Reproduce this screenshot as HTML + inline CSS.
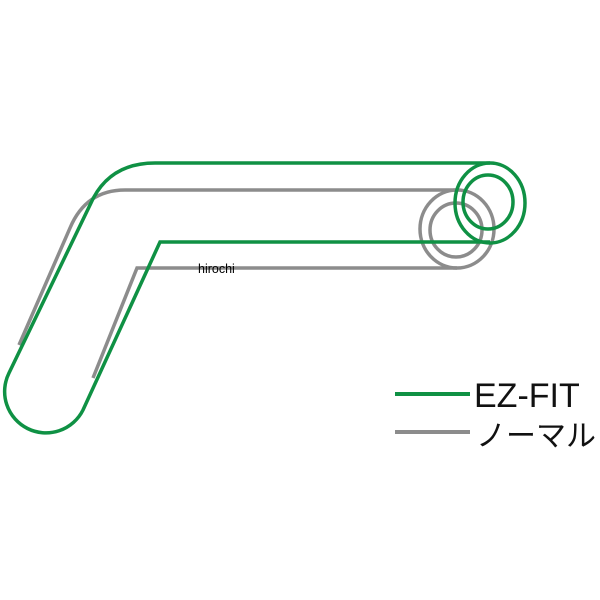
<!DOCTYPE html>
<html><head><meta charset="utf-8"><style>
html,body{margin:0;padding:0;background:#fff;width:600px;height:600px;overflow:hidden}
</style></head><body>
<svg width="600" height="600" viewBox="0 0 600 600" xmlns="http://www.w3.org/2000/svg">
<g fill="none" stroke="#8c8c8c" stroke-width="3.5">
<path d="M457 190 H125 Q86 190 70 228 L19 345"/>
<path d="M457 268 H137 L93 378"/>
<ellipse cx="457" cy="229" rx="37" ry="39"/>
<ellipse cx="456" cy="230" rx="26" ry="27"/>
</g>
<g fill="none" stroke="#0f9144" stroke-width="3.5">
<path d="M490 163 H155 Q108 163 90 205 L9 373 A40 40 0 0 0 83 410 L160 242 H490"/>
<ellipse cx="490" cy="203" rx="35" ry="40"/>
<ellipse cx="488" cy="202" rx="25" ry="27"/>
</g>
<text x="198" y="273" font-family="Liberation Sans, sans-serif" font-size="12.5" fill="#000">hirochi</text>
<line x1="395" y1="394" x2="470" y2="394" stroke="#0f9144" stroke-width="4"/>
<line x1="395" y1="432" x2="470" y2="432" stroke="#8c8c8c" stroke-width="4"/>
<text x="474" y="407" font-family="Liberation Sans, sans-serif" font-size="34" fill="#111">EZ-FIT</text>
<text x="476" y="446" font-family="Liberation Sans, 'Noto Sans CJK JP', sans-serif" font-size="30" fill="#111">ノーマル</text>
</svg>
</body></html>
